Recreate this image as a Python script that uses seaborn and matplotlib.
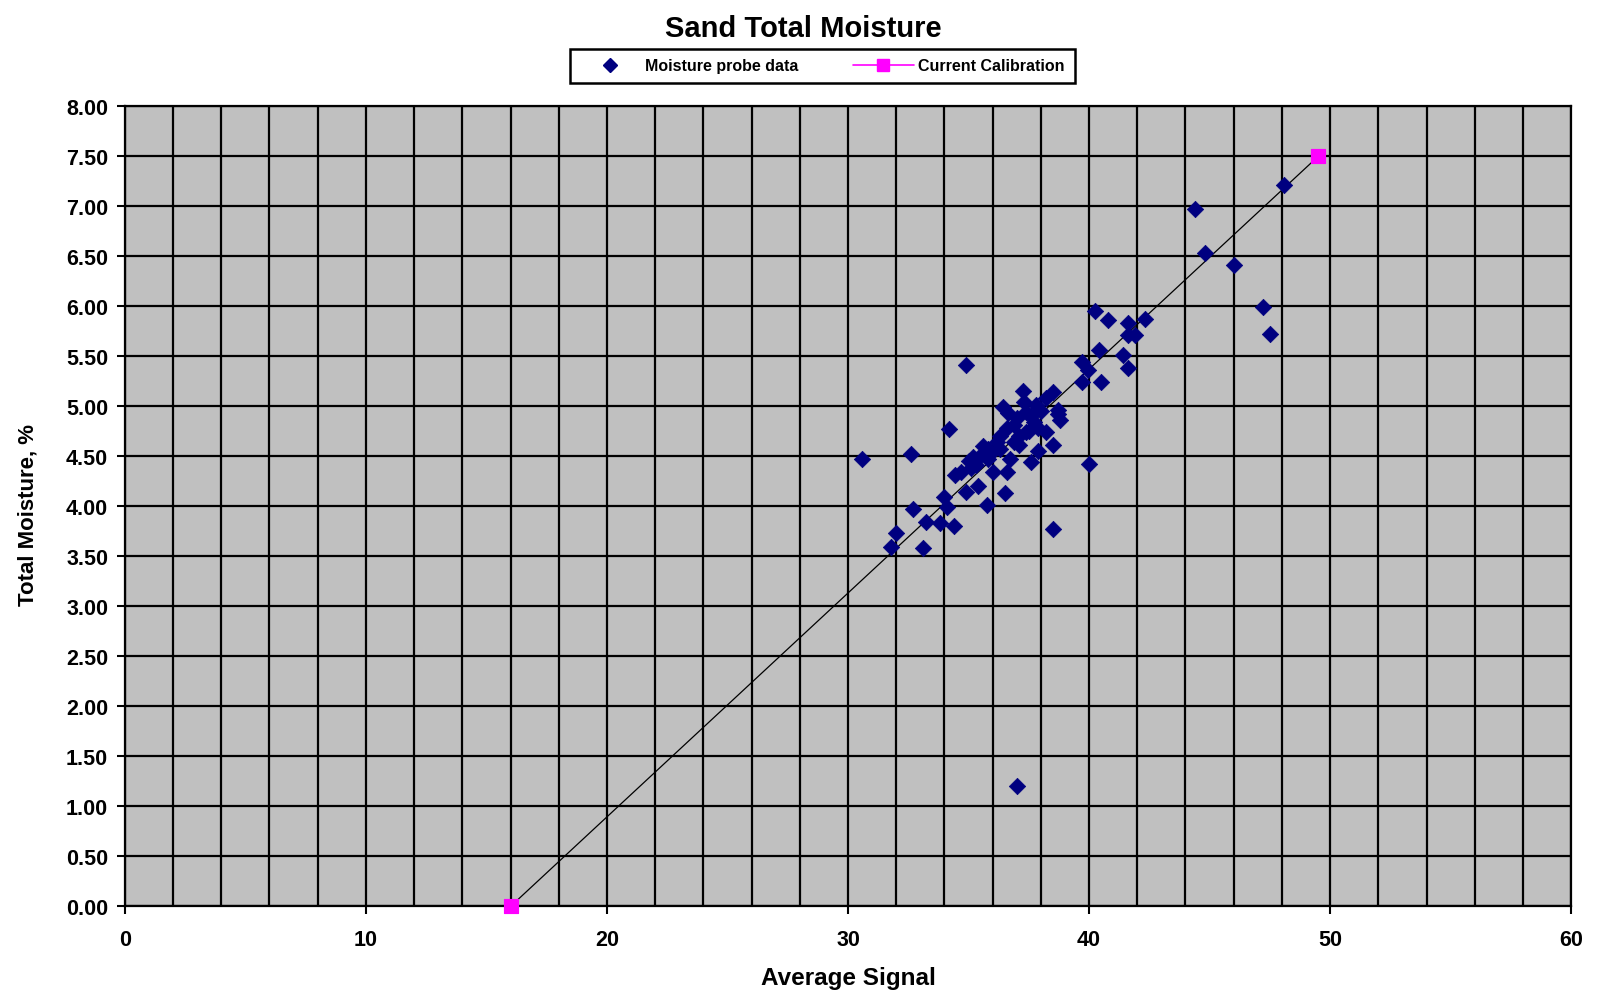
import numpy as np
import pandas as pd
import seaborn as sns
import matplotlib.pyplot as plt
from matplotlib.lines import Line2D

# --- data ---
signal = [48.1, 44.4, 44.8, 46.0, 47.2, 47.5,
          40.25, 40.8, 41.6, 42.3, 41.6, 41.9, 40.4, 41.4, 41.6, 39.7, 39.97, 39.7, 40.5, 40.0,
          34.9, 30.6, 32.6, 34.2, 37.0, 38.5,
          31.8, 32.0, 33.1, 33.25, 32.7, 33.8, 34.4, 34.0, 34.1, 35.76, 36.5,
          34.45, 34.9, 35.4, 35.2, 35.3, 35.8, 36.2, 36.3, 36.0, 36.6, 36.7, 36.9, 36.6, 37.0,
          37.4, 37.8, 38.2, 37.4, 37.9, 38.2, 37.1, 36.9, 37.3, 35.5, 35.8, 34.7, 35.6, 37.7,
          36.65, 36.45, 37.25, 38.5, 38.7, 38.8, 38.5, 37.9, 37.6, 38.7,
          37.1, 37.6, 36.3, 35.9, 37.5, 38.0, 35.1, 35.0]
moisture = [7.21, 6.97, 6.53, 6.41, 5.99, 5.72,
            5.95, 5.86, 5.83, 5.87, 5.71, 5.71, 5.56, 5.51, 5.38, 5.44, 5.36, 5.24, 5.24, 4.42,
            5.41, 4.47, 4.52, 4.77, 1.20, 3.77,
            3.59, 3.73, 3.58, 3.84, 3.97, 3.83, 3.80, 4.09, 3.99, 4.01, 4.13,
            4.31, 4.14, 4.20, 4.49, 4.41, 4.47, 4.64, 4.57, 4.34, 4.34, 4.47, 4.64, 4.78, 4.88,
            4.94, 5.01, 5.08, 4.74, 4.78, 4.74, 4.61, 4.81, 5.04, 4.51, 4.57, 4.34, 4.60, 4.84,
            4.93, 4.99, 5.15, 5.14, 4.96, 4.86, 4.61, 4.55, 4.44, 4.92,
            4.70, 4.90, 4.70, 4.52, 4.75, 4.95, 4.38, 4.45]

calib_signal = [16.0, 49.5]
calib_moisture = [0.0, 7.5]

probe = pd.DataFrame({"signal": signal, "moisture": moisture})
calib = pd.DataFrame({"signal": calib_signal, "moisture": calib_moisture})

sns.set_style("ticks")
plt.rcParams["font.family"] = ["Liberation Sans", "DejaVu Sans"]
plt.rcParams["text.color"] = "black"
plt.rcParams["axes.labelcolor"] = "black"
plt.rcParams["xtick.color"] = "black"
plt.rcParams["ytick.color"] = "black"

fig = plt.figure(figsize=(16, 9.95), dpi=100)
ax = fig.add_axes([0.078, 0.088, 0.904, 0.804])
ax.set_facecolor("#c0c0c0")

sns.lineplot(data=calib, x="signal", y="moisture", ax=ax, color="black", lw=0.9, zorder=3)
sns.scatterplot(data=probe, x="signal", y="moisture", ax=ax, marker="D", s=70,
                color="#000080", edgecolor="#000080", linewidth=0.5, zorder=4)
sns.scatterplot(data=calib, x="signal", y="moisture", ax=ax, marker="s", s=110,
                color="#ff00ff", edgecolor="#ff00ff", zorder=5, clip_on=False)

ax.set_xlim(0, 60)
ax.set_ylim(0, 8)
ax.set_xticks(np.arange(0, 61, 10))
ax.set_xticks(np.arange(0, 61, 2), minor=True)
ax.set_yticks(np.arange(0, 8.01, 0.5))
ax.set_yticklabels([f"{v:.2f}" for v in np.arange(0, 8.01, 0.5)])
ax.grid(True, which="both", color="black", lw=1.6)
ax.tick_params(axis="both", which="major", labelsize=15.5, width=1.5, length=6, direction="out")
ax.tick_params(axis="x", which="major", pad=10)
ax.tick_params(axis="y", which="major", pad=6)
ax.tick_params(axis="x", which="minor", length=0)
for lab in ax.get_xticklabels() + ax.get_yticklabels():
    lab.set_fontweight("bold")
for sp in ax.spines.values():
    sp.set_color("black")
    sp.set_linewidth(1.6)
ax.set_axisbelow(True)

ax.set_xlabel("Average Signal", fontsize=17.5, fontweight="bold", labelpad=12)
ax.set_ylabel("Total Moisture, %", fontsize=16, fontweight="bold")
ax.yaxis.set_label_coords(-0.06, 0.49)
fig.text(0.502, 0.971, "Sand Total Moisture", ha="center", va="center",
         fontsize=21, fontweight="bold")

handles = [
    Line2D([], [], ls="none", marker="D", color="#000080", markersize=7),
    Line2D([], [], color="#ff00ff", lw=1.2, marker="s", markersize=8),
]
leg = fig.legend(handles, ["Moisture probe data", "Current Calibration"], loc="center",
                 bbox_to_anchor=(0.514, 0.933), ncol=2, fancybox=False, framealpha=1,
                 edgecolor="black", prop={"size": 11.5, "weight": "bold"},
                 handlelength=3.8, columnspacing=3.4, borderpad=0.6, handletextpad=0.3,
                 borderaxespad=0)
leg.get_frame().set_linewidth(1.8)

fig.savefig("out.png", dpi=100)
